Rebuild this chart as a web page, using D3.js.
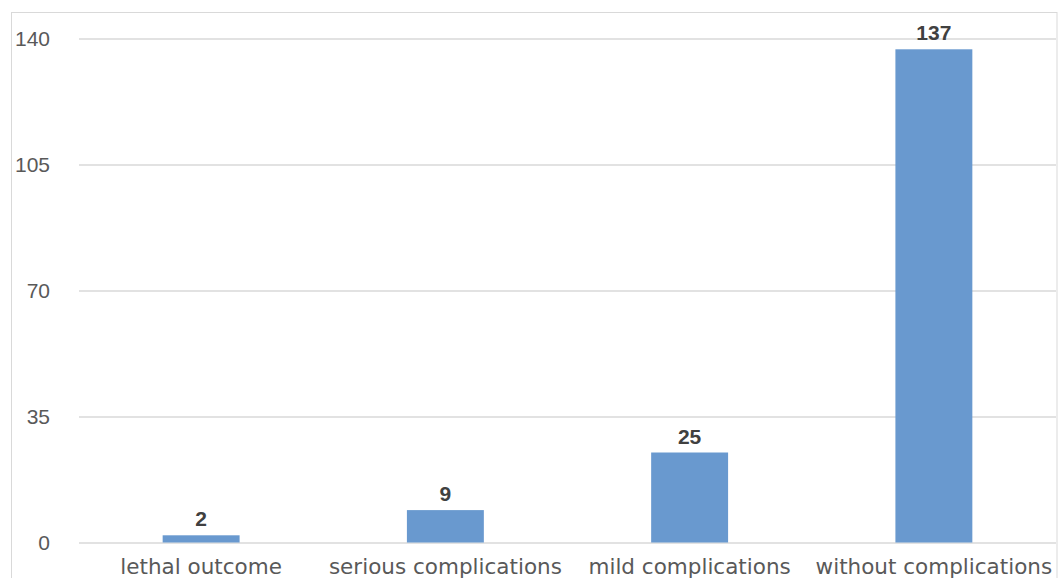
<!DOCTYPE html>
<html>
<head>
<meta charset="utf-8">
<script src="https://cdn.jsdelivr.net/npm/d3@7"></script>
<style>
  html, body { margin: 0; padding: 0; background: #fff; }
  svg { display: block; }
</style>
</head>
<body>
<svg id="chart" width="1058" height="578"></svg>
<script>
// Outcome categories and patient counts
const categories = ["lethal outcome", "serious complications", "mild complications", "without complications"];
const counts = [2, 9, 25, 137];
const yTicks = [0, 35, 70, 105, 140];

const svg = d3.select("#chart");
const W = 1058, H = 578;
const plot = { left: 79, right: 1056, top: 38.5, bottom: 542.5 };

// chart area frame
svg.append("rect")
  .attr("x", 11.5).attr("y", 12.5)
  .attr("width", W - 12.5).attr("height", H)
  .attr("fill", "#fff")
  .attr("stroke", "#d9d9d9")
  .attr("stroke-width", 1);

const x = d3.scaleBand()
  .domain(categories)
  .range([plot.left, plot.right])
  .paddingInner(0.685)
  .paddingOuter(0.3425);

const y = d3.scaleLinear()
  .domain([0, 140])
  .range([plot.bottom, plot.top]);

// horizontal gridlines with value labels on the left
const yAxis = d3.axisLeft(y)
  .tickValues(yTicks)
  .tickSize(-(plot.right - plot.left))
  .tickPadding(29);

const gy = svg.append("g")
  .attr("transform", `translate(${plot.left},0)`)
  .call(yAxis);
gy.select(".domain").remove();
gy.selectAll(".tick line")
  .attr("stroke", "#d9d9d9")
  .attr("stroke-width", 1.5);
gy.selectAll(".tick text")
  .attr("fill", "#595959")
  .style("font-family", "'Liberation Sans', Arial, sans-serif")
  .style("font-size", "21px");

// bars
svg.append("g")
  .selectAll("rect")
  .data(categories)
  .join("rect")
  .attr("x", d => x(d))
  .attr("width", x.bandwidth())
  .attr("y", (d, i) => y(counts[i]))
  .attr("height", (d, i) => y(0) - y(counts[i]))
  .attr("fill", "#6999cf");

// count labels above bars
svg.append("g")
  .selectAll("text")
  .data(categories)
  .join("text")
  .attr("x", d => x(d) + x.bandwidth() / 2)
  .attr("y", (d, i) => y(counts[i]) - 9)
  .attr("text-anchor", "middle")
  .attr("fill", "#404040")
  .style("font-family", "'Liberation Sans', Arial, sans-serif")
  .style("font-weight", "bold")
  .style("font-size", "21px")
  .text((d, i) => counts[i]);

// category labels along the bottom
const xAxis = d3.axisBottom(x).tickSize(0).tickPadding(0);
const gx = svg.append("g")
  .attr("transform", `translate(0,${plot.bottom})`)
  .call(xAxis);
gx.select(".domain").remove();
gx.selectAll(".tick text")
  .attr("dy", null)
  .attr("y", 31.5)
  .attr("fill", "#595959")
  .style("font-family", "'DejaVu Sans', sans-serif")
  .style("font-size", "21.5px");
</script>
</body>
</html>
